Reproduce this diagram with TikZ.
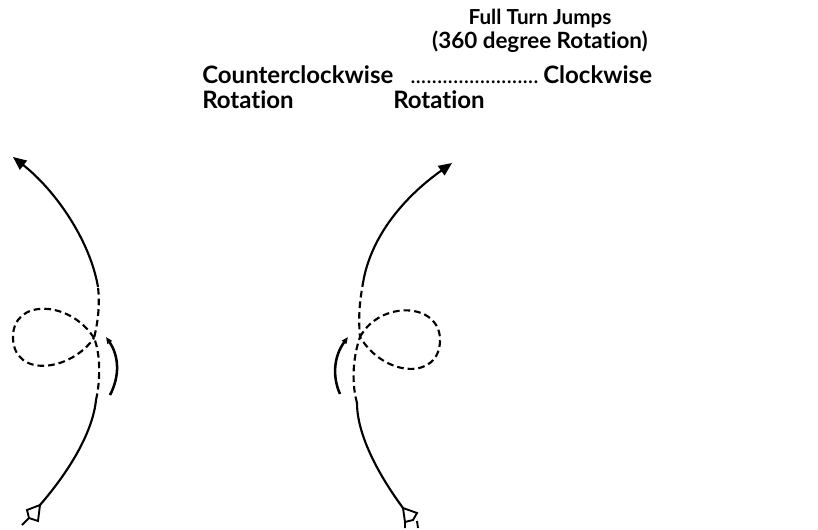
\documentclass[tikz,border=0pt]{standalone}
\usepackage{fontspec}
\setmainfont[Ligatures=NoCommon]{Lato}
\usetikzlibrary{arrows.meta}

\begin{document}
\begin{tikzpicture}[x=0.75pt,y=-0.75pt,
  path/.style={line width=1.6pt,black},
  jump/.style={path,dash pattern=on 5pt off 3pt},
  head/.style={-{Triangle[length=10pt,width=8.5pt]}},
  spin/.style={line width=1.9pt,-{Triangle[length=5pt,width=4pt]}},
  label/.style={font=\bfseries\fontsize{18pt}{21pt}\selectfont,inner sep=0pt}]
\useasboundingbox (0,0) rectangle (818,529);
% heading
\node[label,font=\bfseries\fontsize{15.5pt}{18pt}\selectfont,anchor=base] (title) at (540,24) {Full Turn Jumps};
\node[label,font=\bfseries\fontsize{16.8pt}{19pt}\selectfont,anchor=base] (subtitle) at (540,48) {(360 degree Rotation)};
\node[label,anchor=base west] (ccw) at (202,83) {Counterclockwise};
\node[font=\fontsize{17pt}{19pt}\selectfont,inner sep=0pt,anchor=base west] (dots) at (410,83) {........................};
\node[label,anchor=base west] (cw) at (543,83) {Clockwise};
\node[label,anchor=base west] (ccwrot) at (202,108) {Rotation};
\node[label,anchor=base west] (cwrot) at (393,108) {Rotation};
% counterclockwise jump
\coordinate (lx) at (94,338);
\draw[path] (40,505) .. controls (72,468) and (93,430) .. (96,400);
\draw[jump] (96,400) .. controls (101,378) and (100,352) .. (lx) .. controls (98,322) and (100,305) .. (98,287);
\draw[path,head] (98,287) .. controls (90,240) and (55,190) .. (13,157);
\draw[jump] (lx) .. controls (70,300) and (12,298) .. (13,338) .. controls (14,378) and (70,372) .. (lx);
\draw[spin] (110,395) .. controls (120,376) and (119,356) .. (106,337);
\draw[line width=1.4pt] (40,505) -- (27,510) -- (29,518) -- (38,521) -- cycle (29,518) -- (22,525);
% clockwise jump
\coordinate (rx) at (360,337);
\draw[path] (403,508) .. controls (375,470) and (357,432) .. (357,403);
\draw[jump] (357,403) .. controls (352,385) and (352,360) .. (rx) .. controls (358,315) and (360,300) .. (363,283);
\draw[path,head] (363,283) .. controls (370,240) and (400,200) .. (452,163);
\draw[jump] (rx) .. controls (380,300) and (440,302) .. (440,340) .. controls (440,380) and (385,378) .. (rx);
\draw[spin] (340,394) .. controls (332,376) and (334,356) .. (348,337);
\draw[line width=1.4pt] (403,508) -- (417,513) -- (413,520) -- (405,522) -- cycle (405,522) -- (405,528) (417,521) -- (418,528);
\end{tikzpicture}
\end{document}
